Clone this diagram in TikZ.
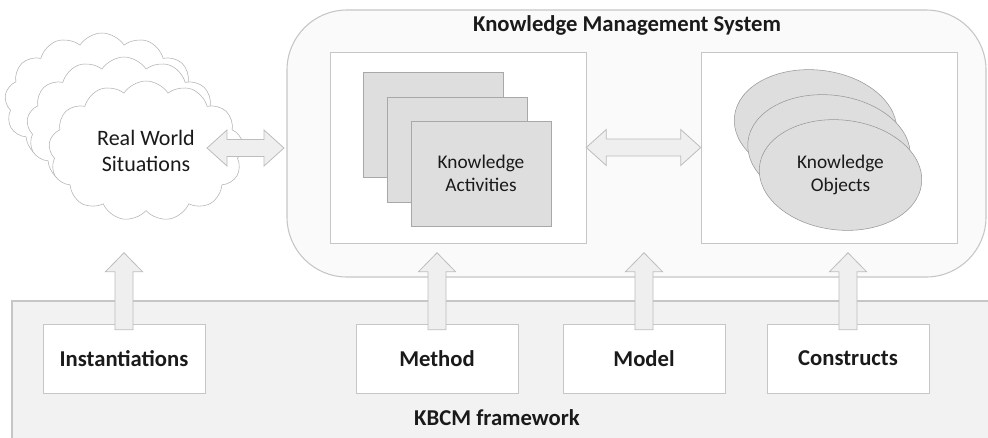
\documentclass[tikz,border=0pt]{standalone}
\usepackage{fontspec}
\setmainfont{Carlito}
\usetikzlibrary{positioning,calc,shapes.geometric,shapes.symbols}

\definecolor{lineg}{HTML}{C6C6C6}
\definecolor{frameg}{HTML}{F2F2F2}
\definecolor{cardg}{HTML}{DEDEDE}
\definecolor{carde}{HTML}{A8A8A8}
\definecolor{arrg}{HTML}{EFEFEF}
\definecolor{arre}{HTML}{BDBDBD}
\definecolor{inkg}{HTML}{1A1A1A}

\tikzset{
  kbox/.style={draw=lineg, fill=white, minimum width=121.5pt, minimum height=51.75pt,
               inner sep=0pt, font=\fontsize{17}{20}\selectfont\bfseries, text=inkg},
  panel/.style={draw=lineg, fill=white, minimum width=192pt, minimum height=143.25pt},
  actcard/.style={draw=carde, fill=cardg, minimum width=105pt, minimum height=78.75pt,
                  align=center, font=\fontsize{14.5}{17.5}\selectfont, text=inkg},
  objcard/.style={ellipse, draw=carde!90!black, fill=cardg, minimum width=122.25pt,
                  minimum height=82.5pt, inner sep=0pt, rotate=-6},
  objtext/.style={align=center, font=\fontsize{14.5}{17.5}\selectfont, text=inkg},
  rwcloud/.style={cloud, cloud puffs=13, cloud puff arc=115, cloud ignores aspect,
                  draw=lineg!90!black, fill=white, minimum width=146pt,
                  minimum height=105pt, inner sep=0pt, align=center,
                  font=\fontsize{16.5}{20}\selectfont, text=inkg},
  blockarr/.style={draw=arre, fill=arrg, line width=0.6pt, line join=miter},
  title/.style={font=\fontsize{17}{20}\selectfont\bfseries, text=inkg}
}

% block arrow pointing up out of a box
\newcommand{\upblock}[1]{%
  \filldraw[blockarr] let \p1=(#1.north) in
    (\x1-6.75pt,\y1-4.5pt) -- (\x1-6.75pt,\y1+39pt) -- (\x1-13.9pt,\y1+39pt)
    -- (\x1,\y1+53.25pt) -- (\x1+13.9pt,\y1+39pt) -- (\x1+6.75pt,\y1+39pt)
    -- (\x1+6.75pt,\y1-4.5pt) -- cycle;}
% two-headed block arrow between two points
\newcommand{\dblblock}[2]{%
  \filldraw[blockarr] let \p1=(#1), \p2=(#2) in
    (\x1,\y1) -- (\x1+15pt,\y1+13.5pt) -- (\x1+15pt,\y1+6.4pt) -- (\x2-15pt,\y1+6.4pt)
    -- (\x2-15pt,\y1+13.5pt) -- (\x2,\y1) -- (\x2-15pt,\y1-13.5pt) -- (\x2-15pt,\y1-6.4pt)
    -- (\x1+15pt,\y1-6.4pt) -- (\x1+15pt,\y1-13.5pt) -- cycle;}

\begin{document}
\begin{tikzpicture}[x=0.75pt, y=-0.75pt]
  \useasboundingbox[fill=white] (0,0) rectangle (988,437);

  % framework band
  \draw[draw=lineg, fill=frameg, line width=0.8pt] (12,301) rectangle (1000,450);
  \node[title] (kbcm) at (497,418) {KBCM framework};

  % knowledge management system
  \draw[draw=lineg, fill=white!98!black, line width=0.8pt, rounded corners=45pt]
    (287,10) rectangle (986,277);
  \node[title] (kms) at (627,25) {Knowledge Management System};
  \node[panel] (actbox) at (458,147.5) {};
  \node[panel] (objbox) at (829,147.5) {};

  % activities
  \node[actcard] (act3) at (433,124.5) {};
  \node[actcard] (act2) at (457,149.5) {};
  \node[actcard] (act1) at (481,173.5) {Knowledge\\Activities};

  % objects
  \node[objcard] (obj3) at (815.5,125) {};
  \node[objcard] (obj2) at (829,150) {};
  \node[objcard] (obj1) at (840.5,175) {};
  \node[objtext] (objlbl) at (obj1.center) {Knowledge\\Objects};

  % real world
  \node[rwcloud] (rw3) at (102,103) {};
  \node[rwcloud] (rw2) at (124,127) {};
  \node[rwcloud] (rw1) at (146,151) {Real World\\Situations};

  % framework parts
  \node[kbox] (inst)  at (124,358.5) {Instantiations};
  \node[kbox] (meth)  at (437,358.5) {Method};
  \node[kbox] (model) at (644,358.5) {Model};
  \node[kbox] (cons)  at (848,358.5) {Constructs};

  % arrows
  \coordinate (rwout) at (207,148);
  \coordinate (kmsin) at (284,148);
  \dblblock{rwout}{kmsin}
  \dblblock{actbox.east}{objbox.west}
  \foreach \b in {inst,meth,model,cons}
    \upblock{\b};
\end{tikzpicture}
\end{document}
